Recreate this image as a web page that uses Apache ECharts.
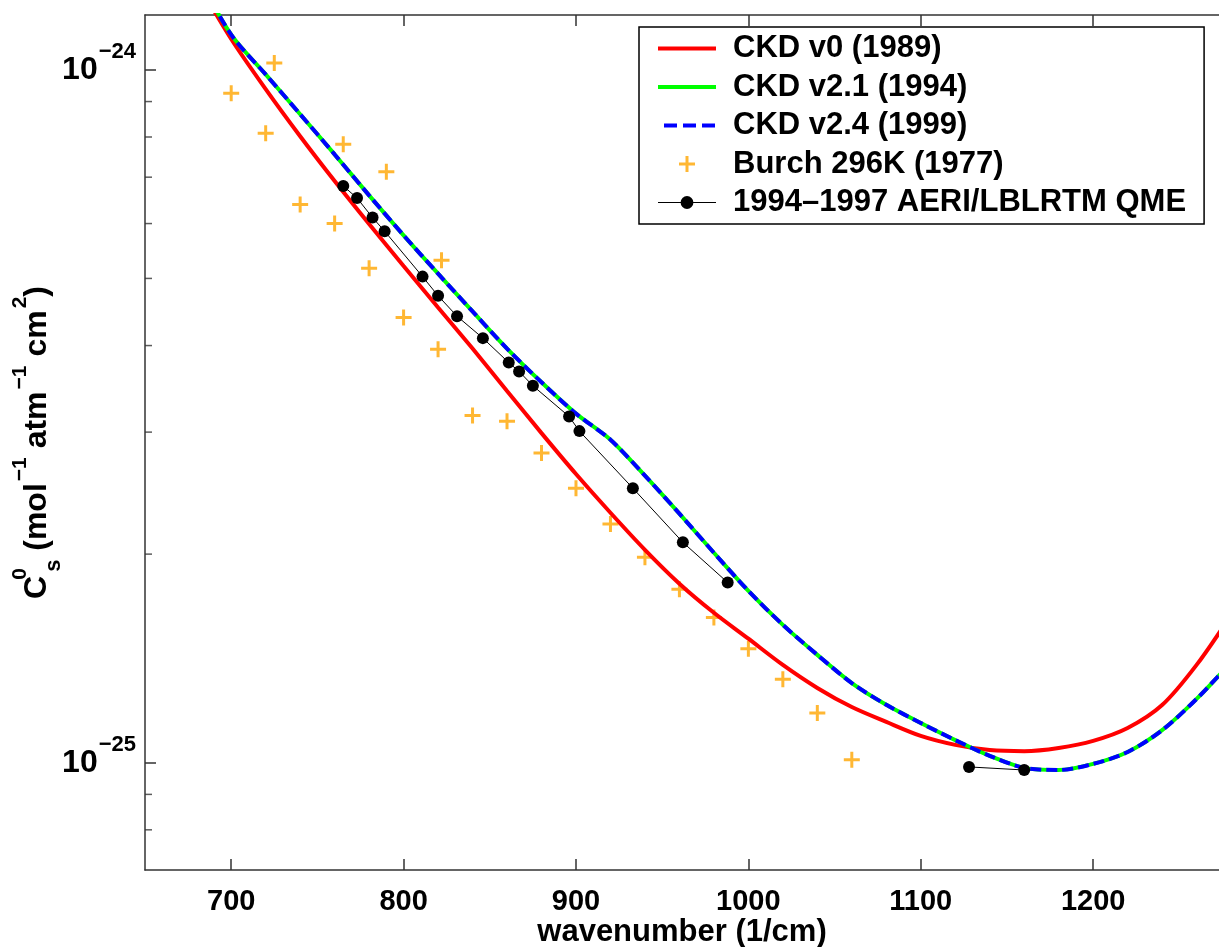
<!DOCTYPE html>
<html>
<head>
<meta charset="utf-8">
<script src="https://cdn.jsdelivr.net/npm/echarts@6/dist/echarts.min.js"></script>
<style>
  html, body { margin: 0; background: #fff; }
  #chart { width: 1219px; height: 947px; }
</style>
</head>
<body>
<div id="chart"></div>
<script>
// model curves, sampled every 20 1/cm
var wavenumber = [680, 700, 720, 740, 760, 780, 800, 820, 840, 860, 880, 900, 920, 940, 960, 980,
  1000, 1020, 1040, 1060, 1080, 1100, 1120, 1140, 1160, 1180, 1200, 1220, 1240, 1260, 1280];
var ckdV0 = [1.344e-24, 1.108e-24, 9.38e-25, 8.02e-25, 6.91e-25, 5.99e-25, 5.21e-25, 4.54e-25,
  3.96e-25, 3.44e-25, 2.99e-25, 2.61e-25, 2.295e-25, 2.029e-25, 1.813e-25, 1.646e-25, 1.510e-25,
  1.384e-25, 1.282e-25, 1.203e-25, 1.145e-25, 1.093e-25, 1.061e-25, 1.043e-25, 1.039e-25, 1.050e-25,
  1.075e-25, 1.122e-25, 1.211e-25, 1.384e-25, 1.634e-25];
var ckdV21 = [1.375e-24, 1.124e-24, 9.85e-25, 8.63e-25, 7.55e-25, 6.59e-25, 5.77e-25, 5.08e-25,
  4.48e-25, 3.96e-25, 3.54e-25, 3.19e-25, 2.925e-25, 2.596e-25, 2.288e-25, 2.009e-25, 1.770e-25,
  1.581e-25, 1.431e-25, 1.303e-25, 1.212e-25, 1.141e-25, 1.078e-25, 1.023e-25, 9.83e-26, 9.76e-26,
  9.96e-26, 1.036e-25, 1.114e-25, 1.236e-25, 1.396e-25];
var ckdV24 = ckdV21.slice();

// Burch 296K lab measurements
var burchWn = [700, 720, 725, 740, 760, 765, 780, 790, 800, 820, 822, 840, 860, 880, 900, 920,
  940, 960, 980, 1000, 1020, 1040, 1060];
var burchVal = [9.25e-25, 8.10e-25, 1.023e-24, 6.39e-25, 6.00e-25, 7.81e-25, 5.17e-25, 7.13e-25,
  4.39e-25, 3.95e-25, 5.31e-25, 3.17e-25, 3.11e-25, 2.80e-25, 2.49e-25, 2.21e-25, 1.98e-25,
  1.78e-25, 1.62e-25, 1.46e-25, 1.32e-25, 1.18e-25, 1.01e-25];

// AERI/LBLRTM QME, two separate runs of channels (no line across the gap)
var qmeWnA = [765, 773, 782, 789, 811, 820, 831, 846, 861, 867, 875, 896, 902, 933, 962, 988];
var qmeValA = [6.80e-25, 6.53e-25, 6.12e-25, 5.85e-25, 5.03e-25, 4.72e-25, 4.41e-25, 4.10e-25,
  3.78e-25, 3.67e-25, 3.50e-25, 3.16e-25, 3.01e-25, 2.49e-25, 2.08e-25, 1.82e-25];
var qmeWnB = [1128, 1160];
var qmeValB = [9.86e-26, 9.76e-26];

var xTicks = [700, 800, 900, 1000, 1100, 1200];
var yMinor = [8e-26, 9e-26, 2e-25, 3e-25, 4e-25, 5e-25, 6e-25, 7e-25, 8e-25, 9e-25];

var xMin = 650, xMax = 1273;
var yMin = 7e-26, yMax = 1.2e-24;

var font = "Liberation Sans";
var axisColor = "#333";
var qmeName = "1994\u20131997 AERI/LBLRTM QME";

function pairs(xs, ys) {
  return xs.map(function(x, i) { return [x, ys[i]]; });
}

var plusPath = "path://M-1.5,-8H1.5V-1.5H8V1.5H1.5V8H-1.5V1.5H-8V-1.5H-1.5Z";

function txt(size, extra) {
  var s = { fontFamily: font, fontWeight: "bold", color: "#000", fontSize: size };
  for (var k in extra) s[k] = extra[k];
  return s;
}

var option = {
  animation: false,
  backgroundColor: "#fff",
  grid: { left: 145, top: 15, right: 0, bottom: 77, containLabel: false, outerBoundsMode: "none" },
  legend: {
    orient: "vertical",
    left: 639,
    top: 27,
    padding: [6, 18, 6, 17],
    itemGap: 7.5,
    itemWidth: 58,
    itemHeight: 16,
    borderColor: "#000",
    borderWidth: 1.5,
    backgroundColor: "#fff",
    textStyle: txt(31, { lineHeight: 31, padding: [0, 0, 0, 12] }),
    data: [
      { name: "CKD v0 (1989)", itemStyle: { opacity: 0 }, lineStyle: { width: 4 } },
      { name: "CKD v2.1 (1994)", itemStyle: { opacity: 0 }, lineStyle: { width: 4 } },
      { name: "CKD v2.4 (1999)", itemStyle: { opacity: 0 }, lineStyle: { width: 4, type: [13, 6], dashOffset: -6 } },
      { name: "Burch 296K (1977)" },
      { name: qmeName, lineStyle: { width: 1 } }
    ]
  },
  xAxis: [
    {
      type: "value",
      position: "bottom",
      min: xMin,
      max: xMax,
      axisLine: { show: true, onZero: false, lineStyle: { color: axisColor, width: 1.5 } },
      axisTick: { inside: true, length: 11, customValues: xTicks, lineStyle: { color: axisColor, width: 1.5 } },
      axisLabel: {
        customValues: xTicks,
        margin: 17,
        fontFamily: font, fontSize: 29, fontWeight: "bold", color: "#000",
        formatter: function(v) { return String(v); }
      },
      splitLine: { show: false },
      name: "wavenumber (1/cm)",
      nameLocation: "middle",
      nameGap: 47,
      nameMoveOverlap: false,
      nameTextStyle: txt(31)
    },
    {
      type: "value",
      position: "top",
      min: xMin,
      max: xMax,
      axisLine: { show: true, onZero: false, lineStyle: { color: axisColor, width: 1.5 } },
      axisTick: { inside: true, length: 11, customValues: xTicks, lineStyle: { color: axisColor, width: 1.5 } },
      axisLabel: { show: false },
      splitLine: { show: false }
    }
  ],
  yAxis: {
    type: "log",
    logBase: 10,
    position: "left",
    min: yMin,
    max: yMax,
    axisLine: { show: true, onZero: false, lineStyle: { color: axisColor, width: 1.5 } },
    axisTick: { inside: true, length: 11, lineStyle: { color: axisColor, width: 1.5 } },
    axisLabel: {
      margin: 9,
      showMinLabel: false,
      showMaxLabel: false,
      formatter: function(v) {
        var e = Math.log(v) / Math.LN10;
        if (Math.abs(e - Math.round(e)) > 1e-6) return "";
        return "{t|10}{e|\u2212" + Math.abs(Math.round(e)) + "}";
      },
      rich: {
        t: txt(32, { lineHeight: 58, verticalAlign: "middle" }),
        e: txt(22, { lineHeight: 20, verticalAlign: "top", padding: [0, 0, 0, 1] })
      }
    },
    splitLine: { show: false },
    name: "{m|C}{z|0}{b|s}{m| (mol}{p|\u22121}{m| atm}{p|\u22121}{m| cm}{p|2}{m|)}",
    nameLocation: "middle",
    nameRotate: 90,
    nameGap: 80,
    nameMoveOverlap: false,
    nameTextStyle: {
      rich: {
        m: txt(32, { lineHeight: 55, verticalAlign: "middle" }),
        p: txt(21, { lineHeight: 20, verticalAlign: "top", padding: [0, 0, 0, 2] }),
        z: txt(21, { lineHeight: 20, verticalAlign: "top", padding: [0, 0, 0, 2], width: 0 }),
        b: txt(22, { lineHeight: 20, verticalAlign: "bottom", padding: [0, 0, 0, 2] })
      }
    }
  },
  series: [
    {
      name: "CKD v0 (1989)",
      type: "line",
      data: pairs(wavenumber, ckdV0),
      symbol: "none",
      smooth: 0.3,
      lineStyle: { color: "#ff0000", width: 4 },
      itemStyle: { color: "#ff0000" }
    },
    {
      name: "CKD v2.1 (1994)",
      type: "line",
      data: pairs(wavenumber, ckdV21),
      symbol: "none",
      smooth: 0.3,
      lineStyle: { color: "#00ff00", width: 4 },
      itemStyle: { color: "#00ff00" }
    },
    {
      name: "CKD v2.4 (1999)",
      type: "line",
      data: pairs(wavenumber, ckdV24),
      symbol: "none",
      smooth: 0.3,
      lineStyle: { color: "#0000ff", width: 4, type: [11, 5] },
      itemStyle: { color: "#0000ff" }
    },
    {
      name: "Burch 296K (1977)",
      type: "scatter",
      data: pairs(burchWn, burchVal),
      symbol: plusPath,
      symbolSize: 16,
      itemStyle: { color: "#ffa500" }
    },
    {
      name: qmeName,
      type: "line",
      data: pairs(qmeWnA, qmeValA),
      symbol: "circle",
      symbolSize: 12,
      lineStyle: { color: "#000", width: 1 },
      itemStyle: { color: "#000" }
    },
    {
      name: qmeName,
      type: "line",
      data: pairs(qmeWnB, qmeValB),
      symbol: "circle",
      symbolSize: 12,
      lineStyle: { color: "#000", width: 1 },
      itemStyle: { color: "#000" }
    },
    {
      // minor ticks of the log axis (2..9 x 10^n), drawn on the left frame
      name: "minor ticks",
      type: "scatter",
      silent: true,
      data: yMinor.map(function(v) { return [xMin, v]; }),
      symbol: "rect",
      symbolSize: [7, 1.5],
      symbolOffset: [3.5, 0],
      itemStyle: { color: axisColor },
      z: 1
    }
  ]
};

var myChart = echarts.init(document.getElementById("chart"));
myChart.setOption(option);
</script>
</body>
</html>
